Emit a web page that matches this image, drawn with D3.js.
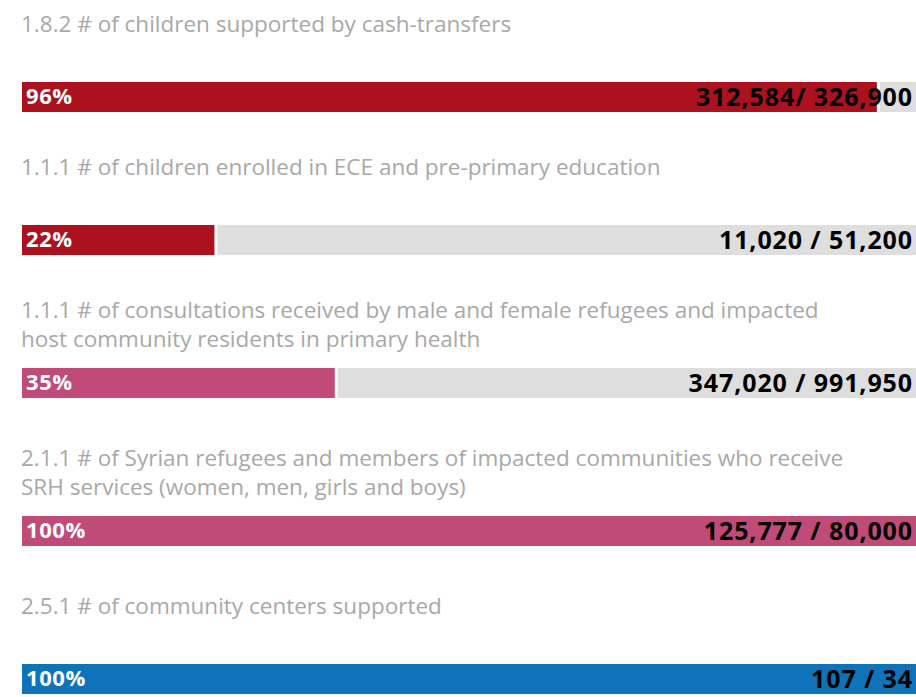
<!DOCTYPE html>
<html>
<head>
<meta charset="utf-8">
<script src="https://cdn.jsdelivr.net/npm/d3@7"></script>
<style>
  html, body { margin: 0; padding: 0; background: #fff; }
  #chart { width: 916px; height: 697px; overflow: hidden; }
</style>
</head>
<body>
<div id="chart"></div>
<script>
// indicator titles, already split into the lines shown
const titles = [
  ['1.8.2 # of children supported by cash-transfers'],
  ['1.1.1 # of children enrolled in ECE and pre-primary education'],
  ['1.1.1 # of consultations received by male and female refugees and impacted',
    'host community residents in primary health'],
  ['2.1.1 # of Syrian refugees and members of impacted communities who receive',
    'SRH services (women, men, girls and boys)'],
  ['2.5.1 # of community centers supported'],
];
const achieved = [312584, 11020, 347020, 125777, 107];
const targets = [326900, 51200, 991950, 80000, 34];
const valueLabels = ['312,584/ 326,900', '11,020 / 51,200', '347,020 / 991,950', '125,777 / 80,000', '107 / 34'];
const barColors = ['#ab121e', '#ab121e', '#c04b79', '#c04b79', '#0e73b9'];

const width = 916;
const height = 697;
const barHeight = 30;
const lineHeight = 29;
const firstBarTop = 82;
const blockStep = 143;

const rows = titles.map((t, i) => ({
  lines: t,
  ratio: Math.min(1, achieved[i] / targets[i]),
  label: valueLabels[i],
  color: barColors[i],
}));

// vertical position of each bar: a block after a two-line title is a bit taller
let acc = firstBarTop;
rows.forEach((r, i) => {
  if (i > 0) acc += blockStep + (rows[i - 1].lines.length - 1) * 5;
  r.top = acc;
});

const x = d3.scaleLinear().domain([0, 1]).range([22, width]);

const svg = d3.select('#chart').append('svg')
  .attr('width', width)
  .attr('height', height)
  .style('font-family', '"Open Sans", Lato, sans-serif');

const g = svg.selectAll('.row')
  .data(rows)
  .enter()
  .append('g')
  .attr('class', 'row')
  .attr('transform', (d) => `translate(0,${d.top})`);

// titles
g.append('text')
  .attr('class', 'title')
  .attr('fill', '#a8a8a8')
  .style('font-size', '22.5px')
  .selectAll('tspan')
  .data((d) => d.lines)
  .enter()
  .append('tspan')
  .attr('x', 21)
  .attr('y', (d, i) => -50 + i * lineHeight)
  .text((d) => d);

// grey remainder track
g.filter((d) => d.ratio < 1)
  .append('rect')
  .attr('x', (d) => x(d.ratio) + 3)
  .attr('y', 0)
  .attr('width', (d) => x(1) - x(d.ratio) - 3)
  .attr('height', barHeight)
  .attr('fill', '#dedede');

// achieved bar
g.append('rect')
  .attr('x', x(0))
  .attr('y', 0)
  .attr('width', (d) => x(d.ratio) - x(0))
  .attr('height', barHeight)
  .attr('fill', (d) => d.color);

// percentage
g.append('text')
  .attr('x', 26)
  .attr('y', 22)
  .attr('fill', '#fff')
  .style('font-size', '22px')
  .style('font-weight', 'bold')
  .style('letter-spacing', '0.6px')
  .text((d) => `${Math.round(d.ratio * 100)}%`);

// achieved / target
g.append('text')
  .attr('x', 913)
  .attr('y', 24)
  .attr('text-anchor', 'end')
  .attr('fill', '#000')
  .style('font-size', '25px')
  .style('font-weight', 'bold')
  .style('letter-spacing', '0.9px')
  .text((d) => d.label);
</script>
</body>
</html>
